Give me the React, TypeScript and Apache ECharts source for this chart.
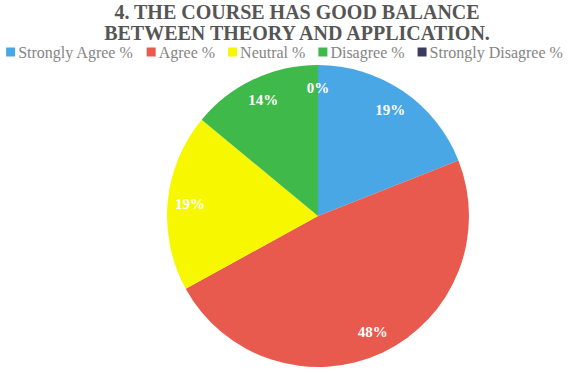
import React, { useEffect, useRef } from "react";
import * as echarts from "echarts";

const categories = ["Strongly Agree %", "Agree %", "Neutral %", "Disagree %", "Strongly Disagree %"];
const values = [19, 48, 19, 14, 0];
const colors = ["#4aa7e6", "#e85a4d", "#f7f700", "#40b94b", "#3b3b5c"];
const titleLines = ["4. THE COURSE HAS GOOD BALANCE", "BETWEEN THEORY AND APPLICATION."];

export default function App() {
  const ref = useRef<HTMLDivElement>(null);
  useEffect(() => {
    if (!ref.current) return;
    const chart = echarts.init(ref.current, null, { renderer: "svg" });
    const data = categories.map((name, i) => ({ name, value: values[i], itemStyle: { color: colors[i] } }));
    chart.setOption({
      animation: false,
      backgroundColor: "#ffffff",
      title: {
        text: titleLines.join("\n"),
        left: 297,
        top: 1,
        padding: 0,
        textAlign: "center",
        textStyle: {
          fontFamily: "Liberation Serif",
          fontWeight: "bold",
          fontSize: 20,
          color: "#555555",
          lineHeight: 21,
        },
      },
      legend: {
        data: categories,
        left: "center",
        top: 44,
        padding: 0,
        itemWidth: 9,
        itemHeight: 9,
        itemGap: 13,
        icon: "rect",
        textStyle: { fontFamily: "Liberation Serif", fontSize: 16, color: "#858585", padding: [0, 0, 0, -2] },
      },
      series: [
        {
          type: "pie",
          center: [318, 216],
          radius: [0, 151],
          startAngle: 90,
          clockwise: true,
          label: { show: false },
          labelLine: { show: false },
          itemStyle: { borderWidth: 0 },
          emphasis: { disabled: true },
          data,
        },
        {
          type: "pie",
          center: [318, 216],
          radius: [100, 151],
          startAngle: 90,
          clockwise: true,
          silent: true,
          legendHoverLink: false,
          itemStyle: { color: "transparent", borderWidth: 0 },
          label: {
            show: true,
            position: "inside",
            formatter: "{c}%",
            fontFamily: "Liberation Serif",
            fontWeight: "bold",
            fontSize: 15,
            color: "#ffffff",
          },
          labelLine: { show: false },
          emphasis: { disabled: true },
          data: categories.map((name, i) => ({ name: name + " ", value: values[i] })),
        },
      ],
    });
    return () => chart.dispose();
  }, []);
  return <div ref={ref} style={{ position: "fixed", left: 0, top: 0, width: 569, height: 373 }} />;
}
